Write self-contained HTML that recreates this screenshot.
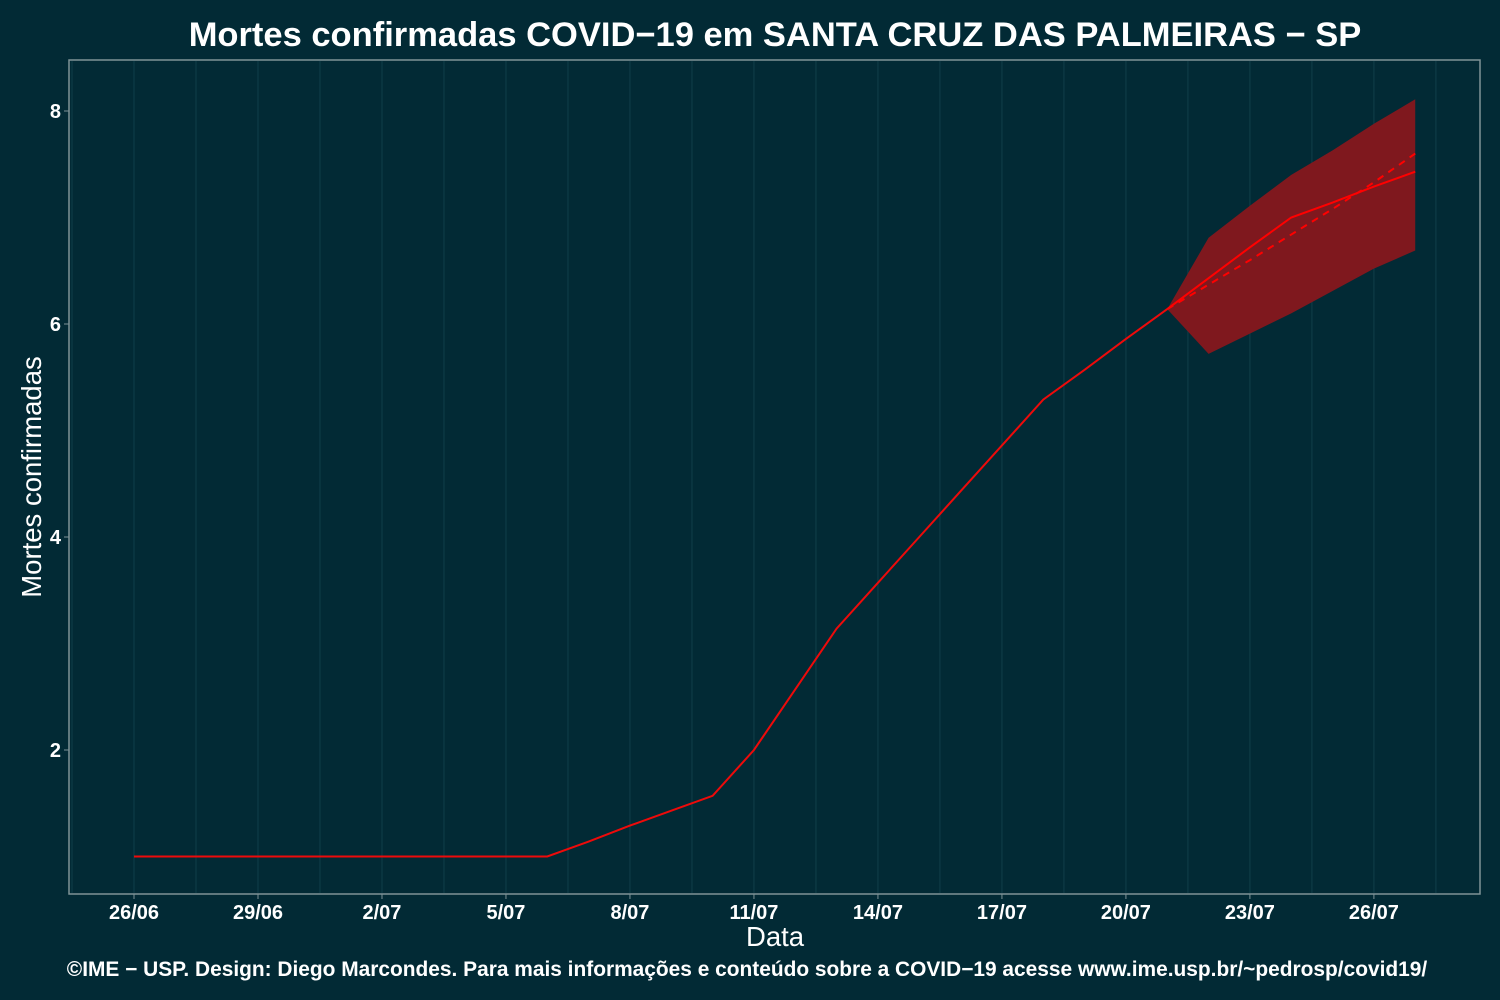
<!DOCTYPE html>
<html><head><meta charset="utf-8"><style>
body{margin:0;background:#022a35;}
svg{display:block;font-family:"Liberation Sans",sans-serif;}
</style></head><body>
<svg id="chart" width="1500" height="1000">
<rect width="1500" height="1000" fill="#022a35"/>
<text x="775" y="46" text-anchor="middle" fill="#fff" font-size="34.5" font-weight="bold">Mortes confirmadas COVID−19 em SANTA CRUZ DAS PALMEIRAS − SP</text>
<g id="grid"></g>
<g id="marks"></g>
<rect x="69" y="60" width="1411" height="834" fill="none" stroke="#7f9397" stroke-width="1.5"/>
<g id="axes"></g>
<text x="775" y="946" text-anchor="middle" fill="#fff" font-size="27.5">Data</text>
<text transform="translate(41,477) rotate(-90)" text-anchor="middle" fill="#fff" font-size="27.5">Mortes confirmadas</text>
<text x="747" y="976" text-anchor="middle" fill="#fff" font-size="20.9" font-weight="bold">©IME − USP. Design: Diego Marcondes. Para mais informações e conteúdo sobre a COVID−19 acesse www.ime.usp.br/~pedrosp/covid19/</text>
</svg>
<script>
const observed = [1,1,1,1,1,1,1,1,1,1,1,1.14,1.29,1.43,1.57,2.0,2.57,3.14,3.57,4.0,4.43,4.86,5.29,5.57,5.86,6.14];
const forecastDays = [25,26,27,28,29,30,31];
const forecastMid = [6.14,6.43,6.72,7.0,7.14,7.29,7.43];
const forecastTrend = [6.14,6.37,6.6,6.84,7.08,7.33,7.6];
const forecastUpper = [6.14,6.81,7.11,7.40,7.63,7.88,8.11];
const forecastLower = [6.14,5.72,5.91,6.10,6.31,6.52,6.69];
const xTickDays = [0,3,6,9,12,15,18,21,24,27,30];
const xTickLabels = ["26/06","29/06","2/07","5/07","8/07","11/07","14/07","17/07","20/07","23/07","26/07"];
const yTicks = [2,4,6,8];

const X = d => 134 + d*41.33;
const Y = v => 856.5 - (v-1)*106.5;
const NS = "http://www.w3.org/2000/svg";
function mk(tag, parent, attrs){const e=document.createElementNS(NS,tag);for(const k in attrs)e.setAttribute(k,attrs[k]);parent.appendChild(e);return e;}
const grid=document.getElementById('grid'), marks=document.getElementById('marks'), axes=document.getElementById('axes');

for(let d=-1.5; d<=32.5; d+=1.5){
  const g=mk('line',grid,{x1:X(d),x2:X(d),y1:61,y2:893,stroke:'#0d3a45','stroke-width':1.3});
  
  
}
xTickDays.forEach((d,i)=>{
  const t=mk('line',axes,{x1:X(d),x2:X(d),y1:894,y2:899,stroke:'#7f9397'});
  
  
  const l=mk('text',axes,{x:X(d),y:919,'text-anchor':'middle',fill:'#fff','font-size':20,'font-weight':'bold'});
  l.textContent=xTickLabels[i];
  
  
});
yTicks.forEach(v=>{
  const t=mk('line',axes,{x1:64,x2:69,y1:Y(v),y2:Y(v),stroke:'#7f9397'});
  
  
  const l=mk('text',axes,{x:61,y:Y(v)+7,'text-anchor':'end',fill:'#fff','font-size':20,'font-weight':'bold'});
  l.textContent=v;
  
  
});

let bp=forecastDays.map((d,i)=>X(d)+','+Y(forecastUpper[i]));
bp=bp.concat(forecastDays.map((d,i)=>X(d)+','+Y(forecastLower[i])).reverse());
const band=mk('polygon',marks,{points:bp.join(' '),fill:'#7f181e'});



const obs=mk('polyline',marks,{points:observed.map((v,i)=>X(i)+','+Y(v)).join(' '),fill:'none',stroke:'#ee0a0a','stroke-width':2});


const mid=mk('polyline',marks,{points:forecastDays.map((d,i)=>X(d)+','+Y(forecastMid[i])).join(' '),fill:'none',stroke:'#ff0000','stroke-width':2});


const tr=mk('polyline',marks,{points:forecastDays.map((d,i)=>X(d)+','+Y(forecastTrend[i])).join(' '),fill:'none',stroke:'#ff0000','stroke-width':2,'stroke-dasharray':'7,6'});


</script>
</body></html>
